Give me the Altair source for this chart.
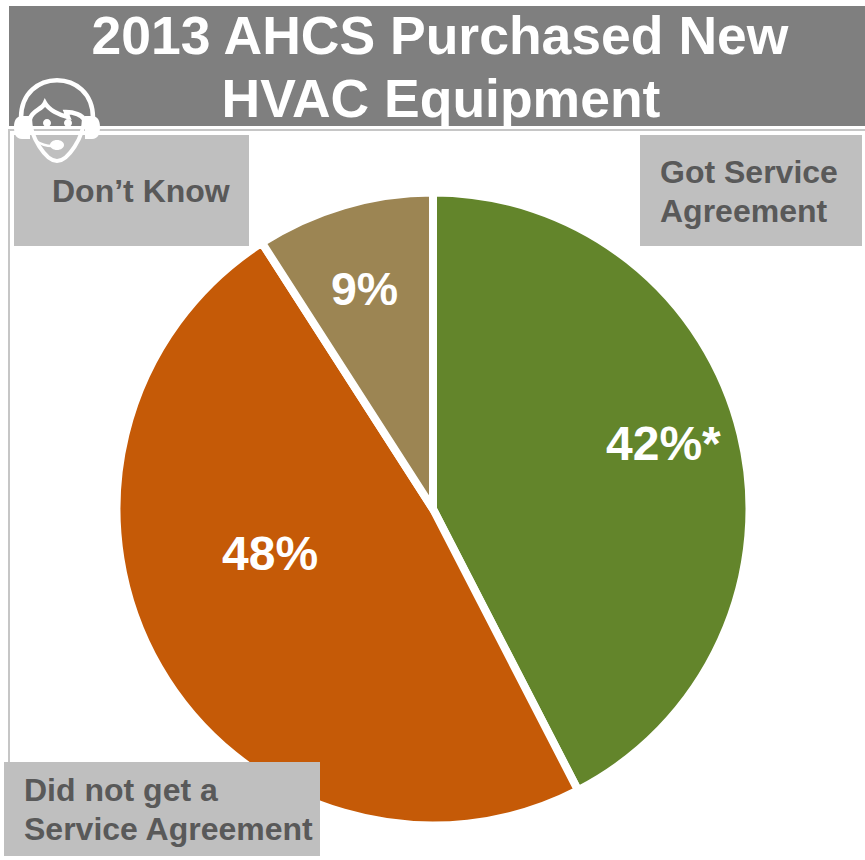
import altair as alt
import pandas as pd

# Survey shares, drawn clockwise from twelve o'clock
answers = ["Got Service Agreement", "Did not get a Service Agreement", "Don't Know"]
shares = [42, 48, 9]
share_labels = ["42%*", "48%", "9%"]
slice_colors = ["#63852b", "#c55a07", "#9c8553"]
title_lines = ["2013 AHCS Purchased New", "HVAC Equipment"]

W, H = 865, 860
CX, CY, R = 433, 509, 316.5

pie_df = pd.DataFrame({"answer": answers, "share": shares, "order": [0, 1, 2]})

x_px = alt.X("x:Q", scale=alt.Scale(domain=[0, W], range=[0, W]), axis=None)
x2_px = alt.X2("x2:Q")
y_px = alt.Y("y:Q", scale=alt.Scale(domain=[0, H], range=[0, H]), axis=None)
y2_px = alt.Y2("y2:Q")


def box(x, y, x2, y2, color):
    return (
        alt.Chart(pd.DataFrame({"x": [x], "x2": [x2], "y": [y], "y2": [y2]}))
        .mark_rect(color=color)
        .encode(x=x_px, x2=x2_px, y=y_px, y2=y2_px)
    )


def text(lines, size, color, align="left", weight="bold"):
    df = pd.DataFrame(lines, columns=["t", "x", "y"])
    return (
        alt.Chart(df)
        .mark_text(font="Liberation Sans", fontWeight=weight, fontSize=size, color=color,
                   align=align, baseline="alphabetic")
        .encode(x=x_px, y=y_px, text="t:N")
    )


def glyph(path, x, y, size, fill=None, stroke=None, width=0):
    kwargs = {"shape": path, "size": size, "filled": fill is not None, "opacity": 1}
    if fill is not None:
        kwargs["fill"] = fill
    if stroke is not None:
        kwargs["stroke"] = stroke
        kwargs["strokeWidth"] = width
    return (
        alt.Chart(pd.DataFrame({"x": [x], "y": [y]}))
        .mark_point(**kwargs)
        .encode(x=x_px, y=y_px)
    )


pie = (
    alt.Chart(pie_df)
    .mark_arc(outerRadius=R, stroke="white", strokeWidth=8)
    .encode(
        theta=alt.Theta("share:Q", stack=True),
        order=alt.Order("order:Q"),
        color=alt.Color("answer:N", scale=alt.Scale(domain=answers, range=slice_colors), legend=None),
        x=alt.value(CX),
        y=alt.value(CY),
    )
)

# Headset icon, sketched in a unit box and scaled by the symbol size
band = "M-0.72,-0.08 C-0.72,-1.09 0.72,-1.09 0.72,-0.08"
face = "M-0.54,-0.08 C-0.54,0.3 -0.22,0.78 0,0.78 C0.22,0.78 0.54,0.3 0.54,-0.08"
hair = ("M-0.54,-0.06 C-0.5,-0.24 -0.3,-0.24 -0.24,-0.38 C-0.16,-0.24 0.04,-0.14 0.22,-0.1 "
        "L0.18,-0.2 C0.34,-0.2 0.5,-0.14 0.56,-0.04")
cups = ("M-0.7,-0.12 C-0.82,-0.12 -0.86,-0.02 -0.86,0.1 C-0.86,0.24 -0.82,0.34 -0.7,0.34 L-0.54,0.34 L-0.54,-0.12 Z "
        "M0.7,-0.12 C0.82,-0.12 0.86,-0.02 0.86,0.1 C0.86,0.24 0.82,0.34 0.7,0.34 L0.56,0.34 L0.56,-0.12 Z")
eyes = ("M-0.28,0.02 a0.08,0.08 0 1,0 0.16,0 a0.08,0.08 0 1,0 -0.16,0 Z "
        "M0.14,0.02 a0.08,0.08 0 1,0 0.16,0 a0.08,0.08 0 1,0 -0.16,0 Z")
mic_wire = "M-0.42,0.38 C-0.3,0.46 -0.2,0.48 -0.1,0.48"
mic_head = "M-0.14,0.46 a0.14,0.1 0 1,0 0.28,0 a0.14,0.1 0 1,0 -0.28,0 Z"

ICON_X, ICON_Y, ICON_SIZE = 57, 122, 10000

layers = [
    box(9, 6, 865, 126, "#7f7f7f"),
    box(8, 129, 865, 131, "#c6c6c6"),
    box(8, 129, 10, 762, "#c6c6c6"),
    pie,
    box(14, 135, 249, 246, "#bfbfbf"),
    box(640, 135, 862, 246, "#bfbfbf"),
    box(4, 762, 320, 856, "#bfbfbf"),
    text([(title_lines[0], 440, 54), (title_lines[1], 441, 117)], 53.5, "white", "center"),
    text([("Don\u2019t Know", 52, 202)], 32, "#595959"),
    text([("Got Service", 660, 183), ("Agreement", 660, 222)], 32, "#595959"),
    text([("Did not get a", 24, 801), ("Service Agreement", 24, 840)], 32, "#595959"),
    text([(share_labels[0], 606, 460)], 48, "white"),
    text([(share_labels[1], 222, 570)], 48, "white"),
    text([(share_labels[2], 331, 305)], 46.5, "white"),
    glyph(band, ICON_X, ICON_Y, ICON_SIZE, stroke="white", width=4.5),
    glyph(face, ICON_X, ICON_Y, ICON_SIZE, stroke="white", width=4),
    glyph(hair, ICON_X, ICON_Y, ICON_SIZE, stroke="white", width=4.5),
    glyph(cups, ICON_X, ICON_Y, ICON_SIZE, fill="white"),
    glyph(eyes, ICON_X, ICON_Y, ICON_SIZE, fill="white"),
    glyph(mic_wire, ICON_X, ICON_Y, ICON_SIZE, stroke="white", width=2.5),
    glyph(mic_head, ICON_X, ICON_Y, ICON_SIZE, fill="white"),
]

chart = alt.layer(*layers).resolve_scale(color="independent").properties(
    width=W, height=H, padding=0, autosize=alt.AutoSizeParams(type="none"),
    background="white",
).configure_view(stroke=None)

chart.save("out.html", embed_options={"renderer": "svg", "actions": False})
